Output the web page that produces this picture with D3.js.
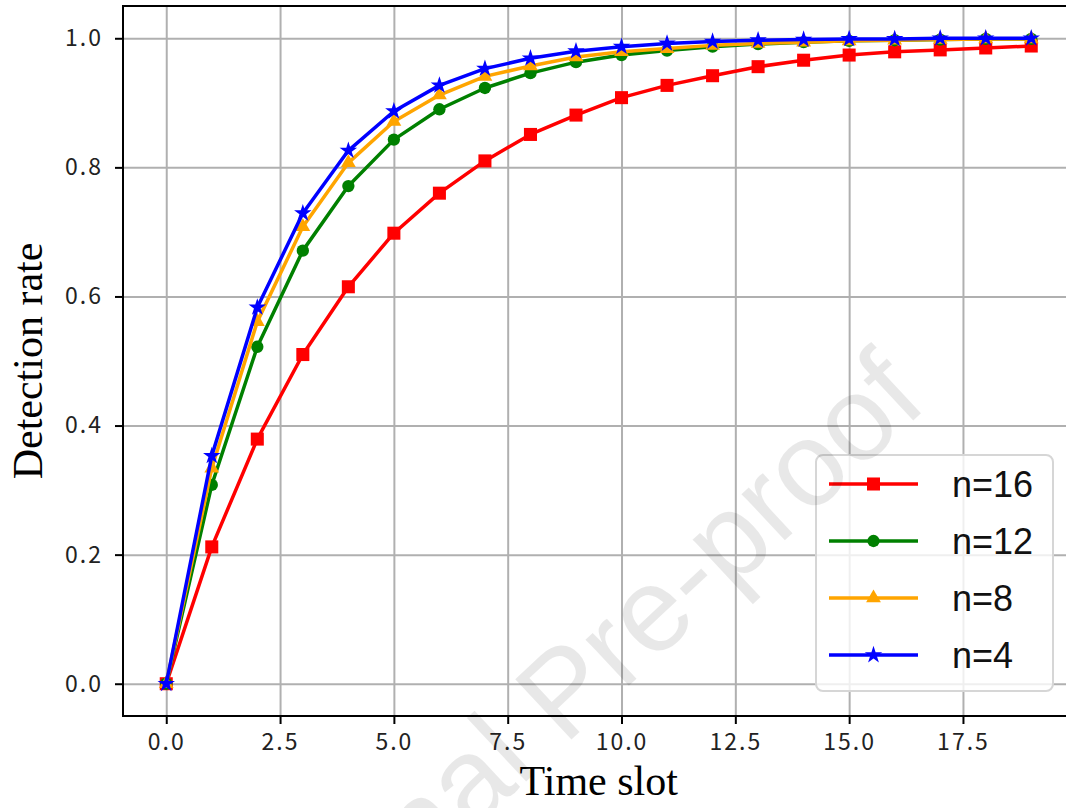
<!DOCTYPE html>
<html>
<head>
<meta charset="utf-8">
<script src="https://cdn.jsdelivr.net/npm/d3@7"></script>
<style>
  body { margin: 0; background: #fff; }
  svg { display: block; }
</style>
</head>
<body>
<svg id="chart"></svg>
<script>
// time slots on the x axis
let timeSlots = [0, 1, 2, 3, 4, 5, 6, 7, 8, 9, 10, 11, 12, 13, 14, 15, 16, 17, 18, 19];

// detection rate per series
let rateN16 = [0, 0.212, 0.379, 0.510, 0.615, 0.698, 0.760, 0.810, 0.851, 0.881,
               0.908, 0.927, 0.942, 0.956, 0.966, 0.974, 0.979, 0.982, 0.985, 0.988];
let rateN12 = [0, 0.308, 0.522, 0.671, 0.771, 0.843, 0.890, 0.923, 0.946, 0.963,
               0.974, 0.981, 0.987, 0.991, 0.994, 0.996, 0.997, 0.998, 0.999, 0.999];
let rateN8  = [0, 0.334, 0.561, 0.708, 0.807, 0.871, 0.912, 0.941, 0.957, 0.971,
               0.979, 0.984, 0.989, 0.992, 0.994, 0.996, 0.997, 0.998, 0.999, 0.999];
let rateN4  = [0, 0.353, 0.583, 0.729, 0.826, 0.887, 0.927, 0.953, 0.969, 0.980,
               0.987, 0.992, 0.995, 0.997, 0.998, 0.999, 0.999, 1.0, 1.0, 1.0];

let seriesNames = ["n=16", "n=12", "n=8", "n=4"];
let xTicks = [0, 2.5, 5, 7.5, 10, 12.5, 15, 17.5];
let yTicks = [0, 0.2, 0.4, 0.6, 0.8, 1.0];

let series = [
    {name: seriesNames[0], values: rateN16, color: "#ff0000", symbol: d3.symbolSquare, size: 170},
    {name: seriesNames[1], values: rateN12, color: "#008000", symbol: d3.symbolCircle, size: 120},
    {name: seriesNames[2], values: rateN8,  color: "#ffa500", symbol: d3.symbolTriangle, size: 95},
    {name: seriesNames[3], values: rateN4,  color: "#0000ff", symbol: d3.symbolStar, size: 95}
];

let width = 1066, height = 808;
let plotLeft = 123, plotRight = 1074.5, plotTop = 6, plotBottom = 716;

let svg = d3.select("#chart").attr("width", width).attr("height", height);
svg.append("rect").attr("width", width).attr("height", height).attr("fill", "#fff");

let x = d3.scaleLinear().domain([-0.95, 19.95]).range([plotLeft, plotRight]);
let y = d3.scaleLinear().domain([-0.05, 1.05]).range([plotBottom, plotTop]);

// grid
svg.append("g")
    .attr("transform", "translate(0," + plotBottom + ")")
    .call(d3.axisBottom(x).tickValues(xTicks).tickSize(-(plotBottom - plotTop)).tickFormat(""))
    .call(g => g.select(".domain").remove())
    .call(g => g.selectAll("line").attr("stroke", "#b0b0b0").attr("stroke-width", 2));
svg.append("g")
    .attr("transform", "translate(" + plotLeft + ",0)")
    .call(d3.axisLeft(y).tickValues(yTicks).tickSize(-(plotRight - plotLeft)).tickFormat(""))
    .call(g => g.select(".domain").remove())
    .call(g => g.selectAll("line").attr("stroke", "#b0b0b0").attr("stroke-width", 2));

// lines and markers
let line = d3.line()
    .x((d, i) => x(timeSlots[i]))
    .y(d => y(d));

series.forEach(function(s) {
    svg.append("path")
        .attr("d", line(s.values))
        .attr("fill", "none")
        .attr("stroke", s.color)
        .attr("stroke-width", 3.5)
        .attr("stroke-linejoin", "round");
    svg.append("g").selectAll("path")
        .data(s.values)
        .enter().append("path")
        .attr("transform", (d, i) => "translate(" + x(timeSlots[i]) + "," + y(d) + ")")
        .attr("d", d3.symbol().type(s.symbol).size(s.size))
        .attr("fill", s.color);
});

// axes
let tickFont = "'Noto Sans CJK SC', sans-serif";
let xAxis = svg.append("g")
    .attr("transform", "translate(0," + plotBottom + ")")
    .call(d3.axisBottom(x).tickValues(xTicks).tickSize(8).tickPadding(10).tickFormat(d3.format(".1f")));
let yAxis = svg.append("g")
    .attr("transform", "translate(" + plotLeft + ",0)")
    .call(d3.axisLeft(y).tickValues(yTicks).tickSize(8).tickPadding(12).tickFormat(d3.format(".1f")));
[xAxis, yAxis].forEach(function(a) {
    a.select(".domain").remove();
    a.selectAll("line").attr("stroke", "#000").attr("stroke-width", 2);
    a.selectAll("text")
        .attr("fill", "#222")
        .style("font-family", tickFont)
        .style("font-size", "23px")
        .style("letter-spacing", "2px");
});

// frame (right spine falls outside the picture)
svg.append("path")
    .attr("d", "M" + width + "," + plotTop + "H" + plotLeft + "V" + plotBottom + "H" + width)
    .attr("fill", "none")
    .attr("stroke", "#000")
    .attr("stroke-width", 2);

// axis labels
svg.append("text")
    .attr("x", (plotLeft + plotRight) / 2)
    .attr("y", 795)
    .attr("text-anchor", "middle")
    .style("font-family", "'Liberation Serif', 'Times New Roman', serif")
    .style("font-size", "42px")
    .text("Time slot");
svg.append("text")
    .attr("transform", "translate(42," + (plotTop + plotBottom) / 2 + ") rotate(-90)")
    .attr("text-anchor", "middle")
    .style("font-family", "'Liberation Serif', 'Times New Roman', serif")
    .style("font-size", "42px")
    .text("Detection rate");

// legend
let legend = svg.append("g").attr("transform", "translate(816,455)");
legend.append("rect")
    .attr("width", 237).attr("height", 236).attr("rx", 7)
    .attr("fill", "#fff").attr("fill-opacity", 0.8)
    .attr("stroke", "#d6d6d6").attr("stroke-width", 2);
let rows = legend.selectAll("g.row")
    .data(series)
    .enter().append("g")
    .attr("class", "row")
    .attr("transform", (d, i) => "translate(0," + (29 + i * 57) + ")");
rows.append("line")
    .attr("x1", 13).attr("x2", 102)
    .attr("stroke", d => d.color).attr("stroke-width", 3.5);
rows.append("path")
    .attr("transform", "translate(57.5,0)")
    .attr("d", d => d3.symbol().type(d.symbol).size(d.size)())
    .attr("fill", d => d.color);
rows.append("text")
    .attr("x", 136)
    .attr("y", 13)
    .style("font-family", "'Liberation Sans', Arial, sans-serif")
    .style("font-size", "36px")
    .attr("fill", "#111")
    .text(d => d.name);

// watermark
svg.append("text")
    .attr("transform", "translate(930,405) rotate(-43)")
    .attr("text-anchor", "end")
    .style("font-family", "'Liberation Sans', Arial, sans-serif")
    .style("font-size", "120px")
    .attr("fill", "#000")
    .attr("fill-opacity", 0.09)
    .text("Journal Pre-proof");
</script>
</body>
</html>
